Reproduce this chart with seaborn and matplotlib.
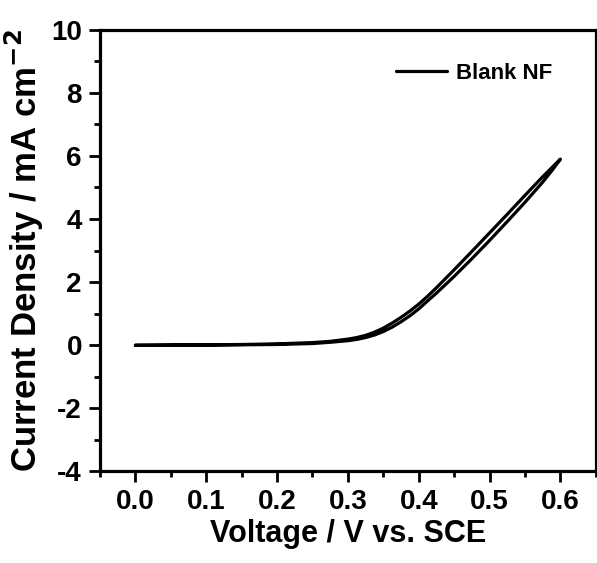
import numpy as np
import pandas as pd
import matplotlib
matplotlib.use("Agg")
import matplotlib.pyplot as plt
import seaborn as sns
from matplotlib.ticker import MultipleLocator

# Forward (upper) branch of the CV loop
v_fwd = [0.000, 0.050, 0.100, 0.150, 0.200, 0.250, 0.275, 0.300, 0.3125, 0.325,
         0.3375, 0.350, 0.3625, 0.375, 0.3875, 0.400, 0.4125, 0.425, 0.450, 0.475,
         0.500, 0.525, 0.550, 0.575, 0.600]
j_fwd = [0.00, 0.00, 0.01, 0.02, 0.04, 0.08, 0.12, 0.19, 0.24, 0.31,
         0.41, 0.54, 0.70, 0.88, 1.08, 1.30, 1.55, 1.82, 2.39, 2.97,
         3.56, 4.15, 4.75, 5.34, 5.90]
# Reverse (lower) branch
v_rev = [0.600, 0.5875, 0.575, 0.550, 0.525, 0.500, 0.475, 0.450, 0.425, 0.4125,
         0.400, 0.3875, 0.375, 0.3625, 0.350, 0.3375, 0.325, 0.3125, 0.300, 0.275,
         0.250, 0.200, 0.150, 0.100, 0.050, 0.000]
j_rev = [5.90, 5.52, 5.17, 4.53, 3.92, 3.32, 2.74, 2.18, 1.65, 1.40,
         1.15, 0.93, 0.74, 0.57, 0.43, 0.32, 0.24, 0.18, 0.14, 0.09,
         0.05, 0.02, 0.01, 0.00, 0.00, -0.01]

series_label = "Blank NF"
x_label = "Voltage / V vs. SCE"
y_label = "Current Density / mA cm$^{\\mathbf{-2}}$"
x_ticks = [0.0, 0.1, 0.2, 0.3, 0.4, 0.5, 0.6]
y_ticks = [-4, -2, 0, 2, 4, 6, 8, 10]

df = pd.DataFrame({
    "V": v_fwd + v_rev,
    "J": j_fwd + j_rev,
    "series": [series_label] * (len(v_fwd) + len(v_rev)),
})

sns.set_style("ticks")
plt.rcParams["font.family"] = ["Liberation Sans", "DejaVu Sans"]
plt.rcParams["font.weight"] = "bold"
plt.rcParams["axes.labelweight"] = "bold"
plt.rcParams["mathtext.default"] = "bf"
plt.rcParams["text.color"] = "black"
plt.rcParams["axes.labelcolor"] = "black"
plt.rcParams["xtick.color"] = "black"
plt.rcParams["ytick.color"] = "black"
plt.rcParams["axes.edgecolor"] = "black"

fig = plt.figure(figsize=(5.97, 5.63), dpi=100)
ax = fig.add_axes([0.1675, 0.163, 0.8305, 0.784])

sns.lineplot(data=df, x="V", y="J", hue="series", palette=["black"],
             sort=False, estimator=None, linewidth=2.3, ax=ax)

ax.set_xlim(-0.05, 0.65)
ax.set_ylim(-4, 10)
ax.set_xticks(x_ticks)
ax.set_xticklabels([f"{t:.1f}" for t in x_ticks])
ax.set_yticks(y_ticks)
ax.set_yticklabels([str(t) for t in y_ticks])
ax.xaxis.set_minor_locator(MultipleLocator(0.05))
ax.yaxis.set_minor_locator(MultipleLocator(1))

ax.tick_params(axis="both", which="major", direction="out", length=8, width=2,
               labelsize=20, pad=5, colors="black")
ax.tick_params(axis="both", which="minor", direction="out", length=4.5, width=2,
               colors="black")
for lab in ax.get_xticklabels() + ax.get_yticklabels():
    lab.set_fontweight("bold")

for s in ax.spines.values():
    s.set_linewidth(2.3)
    s.set_visible(True)
    s.set_color("black")

ax.set_xlabel(x_label, fontsize=22, fontweight="bold", labelpad=3, color="black")
ax.set_ylabel(y_label, fontsize=25, fontweight="bold", labelpad=4, color="black")

leg = ax.legend(loc="upper right", bbox_to_anchor=(0.952, 0.97), frameon=False,
                fontsize=16, handlelength=2.3, handletextpad=0.4)
for t in leg.get_texts():
    t.set_fontweight("bold")
    t.set_color("black")
for l in leg.get_lines():
    l.set_linewidth(2.3)

fig.savefig("out.png", dpi=100)
